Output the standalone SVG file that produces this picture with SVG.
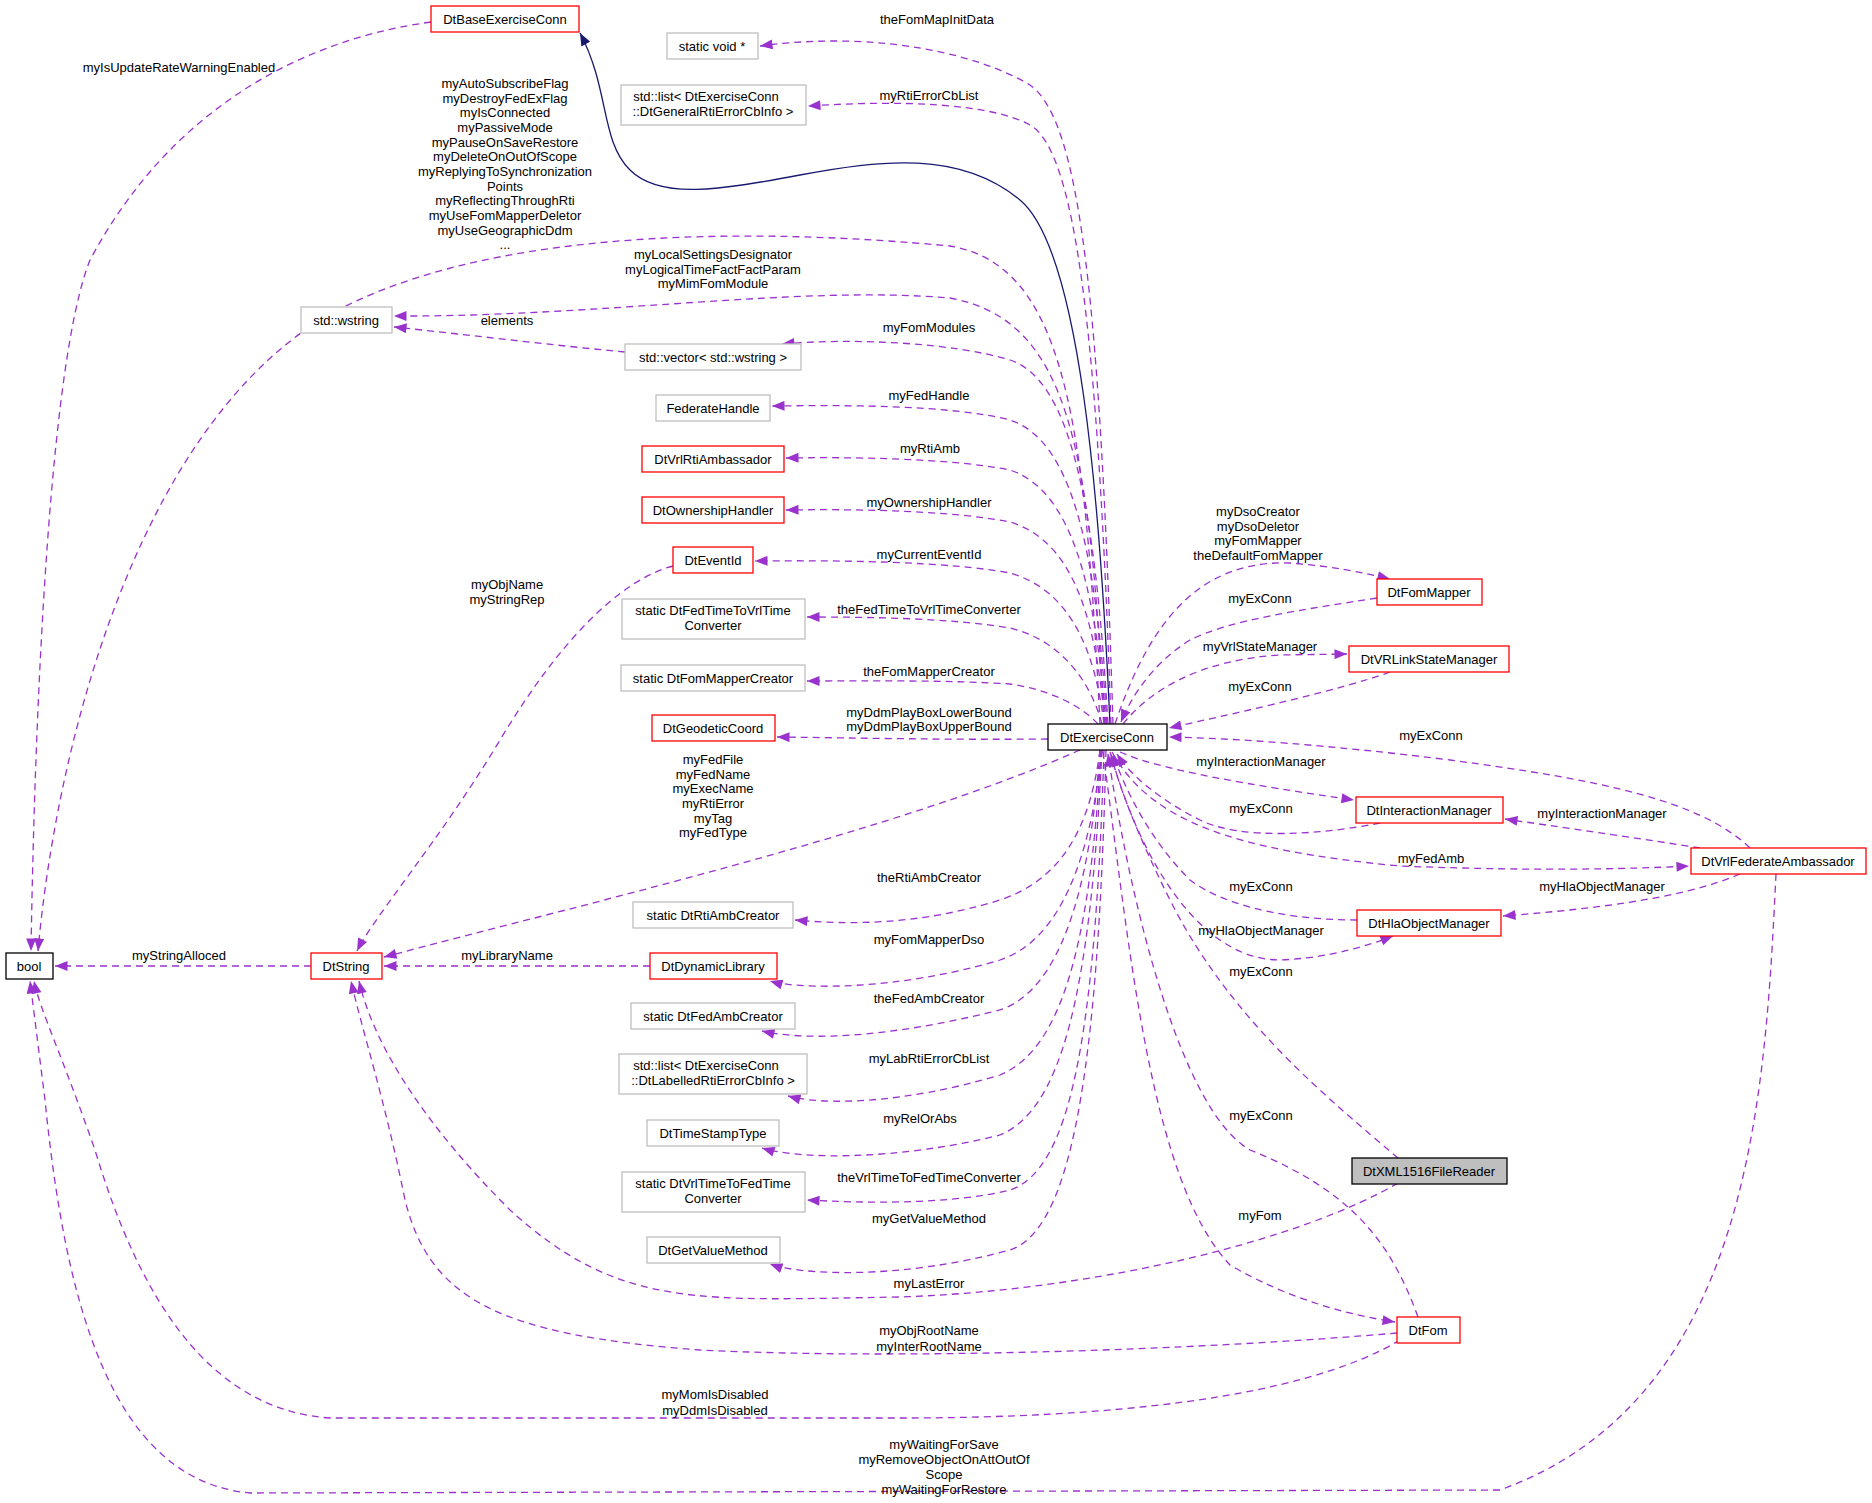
<svg xmlns="http://www.w3.org/2000/svg" width="1872" height="1503" viewBox="0 0 1872 1503">
<style>
text{font-family:"Liberation Sans",Arial,sans-serif;font-size:13px;fill:#000;text-anchor:middle}
.n rect{fill:#fff;stroke-width:1.3}
.r rect{stroke:#ff0000}
.g rect{stroke:#bfbfbf}
.k rect{stroke:#000}
.e path{fill:none;stroke:#9a32cd;stroke-width:1.3;stroke-dasharray:7,5;marker-end:url(#a)}
.e path.inh{stroke:#191970;stroke-dasharray:none;marker-end:url(#b)}
</style>
<defs>
<marker id="a" viewBox="0 0 10 8" refX="10" refY="4" markerWidth="13" markerHeight="10" markerUnits="userSpaceOnUse" orient="auto"><path d="M0,0L10,4L0,8z" fill="#9a32cd"/></marker>
<marker id="b" viewBox="0 0 10 8" refX="10" refY="4" markerWidth="13" markerHeight="10" markerUnits="userSpaceOnUse" orient="auto"><path d="M0,0L10,4L0,8z" fill="#191970"/></marker>
</defs>
<rect width="1872" height="1503" fill="#fff"/>
<g id="edges" class="e">
<path class="inh" d="M1110,724 C1100,500 1080,250 1020,200 C960,150 880,160 800,175 C720,190 660,200 630,170 C600,140 610,90 580,33"/>
<path d="M431,22 C300,40 170,110 90,260 C50,360 35,700 31,951"/>
<path d="M1100,724 C1085,420 1065,265 950,246 C760,228 480,225 320,320 C130,440 55,760 38,951"/>
<path d="M1113,724 C1100,300 1080,120 1030,85 C980,55 880,30 760,46"/>
<path d="M1111,724 C1098,330 1075,150 1030,125 C990,103 900,100 808,106"/>
<path d="M1104,724 C1090,450 1070,320 950,298 C800,285 600,317 394,316"/>
<path d="M1108,724 C1095,500 1070,380 1010,360 C950,342 850,338 782,344"/>
<path d="M625,352 C550,345 470,335 394,327"/>
<path d="M1107,724 C1095,540 1070,440 1010,420 C950,405 850,405 772,406"/>
<path d="M1106,724 C1095,580 1070,490 1010,470 C950,458 850,457 786,458"/>
<path d="M1105,724 C1095,610 1070,540 1010,522 C950,510 850,509 786,510"/>
<path d="M1104,724 C1095,650 1070,590 1010,573 C950,562 850,560 755,561"/>
<path d="M1102,724 C1090,680 1060,640 1010,628 C950,618 870,617 807,617"/>
<path d="M1098,724 C1080,705 1050,690 1010,684 C950,680 870,681 807,681"/>
<path d="M1048,739 C950,740 860,738 777,737"/>
<path d="M673,566 C620,580 560,640 500,740 C440,840 375,915 357,951"/>
<path d="M1080,750 C900,830 600,900 384,957"/>
<path d="M311,966 L55,966"/>
<path d="M650,966 L384,966"/>
<path d="M1100,750 C1090,830 1060,880 1000,900 C920,925 850,925 795,920"/>
<path d="M1102,750 C1090,860 1060,940 1000,960 C900,990 800,990 770,981"/>
<path d="M1100,750 C1090,890 1060,990 1000,1010 C880,1040 800,1040 762,1031"/>
<path d="M1101,750 C1090,950 1060,1050 1000,1075 C900,1105 820,1105 788,1096"/>
<path d="M1102,750 C1090,1000 1060,1110 1000,1135 C900,1160 800,1160 762,1148"/>
<path d="M1104,750 C1095,1040 1070,1170 1010,1190 C950,1205 860,1203 807,1200"/>
<path d="M1106,750 C1098,1080 1070,1230 1010,1250 C900,1280 800,1275 770,1264"/>
<path d="M1398,1183 C1300,1240 1100,1290 900,1297 C700,1300 620,1310 510,1210 C430,1130 375,1050 359,981"/>
<path d="M1397,1333 C1200,1350 900,1360 700,1350 C500,1335 430,1300 405,1200 C385,1100 362,1030 351,981"/>
<path d="M1400,1340 C1300,1400 1100,1418 900,1418 L330,1418 C210,1410 140,1300 95,1150 C60,1050 40,1010 34,981"/>
<path d="M1776,874 C1765,1100 1750,1400 1500,1490 L250,1493 C110,1480 65,1300 45,1100 L30,981"/>
<path d="M1115,724 C1150,620 1200,560 1290,563 C1330,566 1360,572 1390,579"/>
<path d="M1377,598 C1300,610 1230,620 1190,640 C1150,665 1130,700 1121,722"/>
<path d="M1123,724 C1150,690 1200,660 1280,655 L1347,654"/>
<path d="M1390,672 C1340,690 1250,710 1169,728"/>
<path d="M1750,848 C1700,800 1600,780 1450,760 C1330,745 1230,738 1169,737"/>
<path d="M1120,752 C1160,770 1250,785 1354,800"/>
<path d="M1380,823 C1320,835 1240,840 1200,820 C1160,800 1130,775 1117,754"/>
<path d="M1112,752 C1150,820 1230,850 1400,866 C1550,872 1650,868 1689,866"/>
<path d="M1700,848 C1650,840 1580,830 1505,819"/>
<path d="M1740,874 C1680,900 1580,910 1503,916"/>
<path d="M1357,920 C1300,920 1230,910 1190,880 C1150,840 1125,790 1113,754"/>
<path d="M1110,752 C1140,860 1200,960 1280,960 C1330,958 1370,945 1393,936"/>
<path d="M1398,1158 C1330,1100 1230,1020 1170,900 C1140,840 1120,790 1111,754"/>
<path d="M1418,1317 C1390,1240 1350,1190 1250,1150 C1180,1110 1130,900 1108,754"/>
<path d="M1103,752 C1130,950 1150,1180 1230,1265 C1290,1300 1350,1315 1395,1322"/>
</g>
<g id="labels">
<text x="179" y="72">myIsUpdateRateWarningEnabled</text>
<text x="505" y="88">myAutoSubscribeFlag</text>
<text x="505" y="103">myDestroyFedExFlag</text>
<text x="505" y="117">myIsConnected</text>
<text x="505" y="132">myPassiveMode</text>
<text x="505" y="147">myPauseOnSaveRestore</text>
<text x="505" y="161">myDeleteOnOutOfScope</text>
<text x="505" y="176">myReplyingToSynchronization</text>
<text x="505" y="191">Points</text>
<text x="505" y="205">myReflectingThroughRti</text>
<text x="505" y="220">myUseFomMapperDeletor</text>
<text x="505" y="235">myUseGeographicDdm</text>
<text x="505" y="249">...</text>
<text x="713" y="259">myLocalSettingsDesignator</text>
<text x="713" y="274">myLogicalTimeFactFactParam</text>
<text x="713" y="288">myMimFomModule</text>
<text x="507" y="325">elements</text>
<text x="507" y="589">myObjName</text>
<text x="507" y="604">myStringRep</text>
<text x="937" y="24">theFomMapInitData</text>
<text x="929" y="100">myRtiErrorCbList</text>
<text x="929" y="332">myFomModules</text>
<text x="929" y="400">myFedHandle</text>
<text x="930" y="453">myRtiAmb</text>
<text x="929" y="507">myOwnershipHandler</text>
<text x="929" y="559">myCurrentEventId</text>
<text x="929" y="614">theFedTimeToVrlTimeConverter</text>
<text x="929" y="676">theFomMapperCreator</text>
<text x="929" y="717">myDdmPlayBoxLowerBound</text>
<text x="929" y="731">myDdmPlayBoxUpperBound</text>
<text x="713" y="764">myFedFile</text>
<text x="713" y="779">myFedName</text>
<text x="713" y="793">myExecName</text>
<text x="713" y="808">myRtiError</text>
<text x="713" y="823">myTag</text>
<text x="713" y="837">myFedType</text>
<text x="929" y="882">theRtiAmbCreator</text>
<text x="929" y="944">myFomMapperDso</text>
<text x="929" y="1003">theFedAmbCreator</text>
<text x="929" y="1063">myLabRtiErrorCbList</text>
<text x="920" y="1123">myRelOrAbs</text>
<text x="929" y="1182">theVrlTimeToFedTimeConverter</text>
<text x="929" y="1223">myGetValueMethod</text>
<text x="929" y="1288">myLastError</text>
<text x="929" y="1335">myObjRootName</text>
<text x="929" y="1351">myInterRootName</text>
<text x="179" y="960">myStringAlloced</text>
<text x="507" y="960">myLibraryName</text>
<text x="715" y="1399">myMomIsDisabled</text>
<text x="715" y="1415">myDdmIsDisabled</text>
<text x="944" y="1449">myWaitingForSave</text>
<text x="944" y="1464">myRemoveObjectOnAttOutOf</text>
<text x="944" y="1479">Scope</text>
<text x="944" y="1494">myWaitingForRestore</text>
<text x="1258" y="516">myDsoCreator</text>
<text x="1258" y="531">myDsoDeletor</text>
<text x="1258" y="545">myFomMapper</text>
<text x="1258" y="560">theDefaultFomMapper</text>
<text x="1260" y="603">myExConn</text>
<text x="1260" y="651">myVrlStateManager</text>
<text x="1260" y="691">myExConn</text>
<text x="1431" y="740">myExConn</text>
<text x="1261" y="766">myInteractionManager</text>
<text x="1261" y="813">myExConn</text>
<text x="1602" y="818">myInteractionManager</text>
<text x="1431" y="863">myFedAmb</text>
<text x="1261" y="891">myExConn</text>
<text x="1602" y="891">myHlaObjectManager</text>
<text x="1261" y="935">myHlaObjectManager</text>
<text x="1261" y="976">myExConn</text>
<text x="1261" y="1120">myExConn</text>
<text x="1260" y="1220">myFom</text>
</g>
<g id="DtBaseExerciseConn" class="n r"><rect x="431" y="6" width="148" height="26"/><text x="505" y="23.5">DtBaseExerciseConn</text></g>
<g id="staticvoid" class="n g"><rect x="667" y="33" width="91" height="26"/><text x="712" y="50.5">static void *</text></g>
<g id="listGeneral" class="n g"><rect x="621" y="85" width="185" height="40"/><text x="706" y="101">std::list&lt; DtExerciseConn</text><text x="713" y="116">::DtGeneralRtiErrorCbInfo &gt;</text></g>
<g id="wstring" class="n g"><rect x="301" y="307" width="91" height="26"/><text x="346" y="324.5">std::wstring</text></g>
<g id="vector" class="n g"><rect x="625" y="344" width="176" height="26"/><text x="713" y="361.5">std::vector&lt; std::wstring &gt;</text></g>
<g id="FederateHandle" class="n g"><rect x="656" y="395" width="114" height="26"/><text x="713" y="412.5">FederateHandle</text></g>
<g id="DtVrlRtiAmbassador" class="n r"><rect x="642" y="446" width="142" height="26"/><text x="713" y="463.5">DtVrlRtiAmbassador</text></g>
<g id="DtOwnershipHandler" class="n r"><rect x="642" y="497" width="142" height="26"/><text x="713" y="514.5">DtOwnershipHandler</text></g>
<g id="DtEventId" class="n r"><rect x="673" y="547" width="80" height="26"/><text x="713" y="564.5">DtEventId</text></g>
<g id="FedTimeToVrl" class="n g"><rect x="622" y="599" width="183" height="40"/><text x="713" y="615">static DtFedTimeToVrlTime</text><text x="713" y="630">Converter</text></g>
<g id="FomMapperCreator" class="n g"><rect x="621" y="665" width="184" height="26"/><text x="713" y="682.5">static DtFomMapperCreator</text></g>
<g id="DtGeodeticCoord" class="n r"><rect x="652" y="715" width="123" height="26"/><text x="713" y="732.5">DtGeodeticCoord</text></g>
<g id="DtExerciseConn" class="n k"><rect x="1048" y="724" width="119" height="26"/><text x="1107" y="741.5">DtExerciseConn</text></g>
<g id="bool" class="n k"><rect x="6" y="953" width="47" height="26"/><text x="29" y="970.5">bool</text></g>
<g id="DtString" class="n r"><rect x="311" y="953" width="71" height="26"/><text x="346" y="970.5">DtString</text></g>
<g id="DtDynamicLibrary" class="n r"><rect x="650" y="953" width="127" height="26"/><text x="713" y="970.5">DtDynamicLibrary</text></g>
<g id="RtiAmbCreator" class="n g"><rect x="633" y="902" width="160" height="26"/><text x="713" y="919.5">static DtRtiAmbCreator</text></g>
<g id="FedAmbCreator" class="n g"><rect x="631" y="1003" width="164" height="26"/><text x="713" y="1020.5">static DtFedAmbCreator</text></g>
<g id="listLabelled" class="n g"><rect x="619" y="1054" width="188" height="40"/><text x="706" y="1070">std::list&lt; DtExerciseConn</text><text x="713" y="1085">::DtLabelledRtiErrorCbInfo &gt;</text></g>
<g id="DtTimeStampType" class="n g"><rect x="647" y="1120" width="132" height="26"/><text x="713" y="1137.5">DtTimeStampType</text></g>
<g id="VrlTimeToFed" class="n g"><rect x="622" y="1172" width="183" height="40"/><text x="713" y="1188">static DtVrlTimeToFedTime</text><text x="713" y="1203">Converter</text></g>
<g id="DtGetValueMethod" class="n g"><rect x="647" y="1237" width="133" height="26"/><text x="713" y="1254.5">DtGetValueMethod</text></g>
<g id="DtFomMapper" class="n r"><rect x="1377" y="579" width="105" height="26"/><text x="1429" y="596.5">DtFomMapper</text></g>
<g id="DtVRLinkStateManager" class="n r"><rect x="1349" y="646" width="160" height="26"/><text x="1429" y="663.5">DtVRLinkStateManager</text></g>
<g id="DtInteractionManager" class="n r"><rect x="1356" y="797" width="147" height="26"/><text x="1429" y="814.5">DtInteractionManager</text></g>
<g id="DtVrlFederateAmbassador" class="n r"><rect x="1691" y="848" width="175" height="26"/><text x="1778" y="865.5">DtVrlFederateAmbassador</text></g>
<g id="DtHlaObjectManager" class="n r"><rect x="1357" y="910" width="144" height="26"/><text x="1429" y="927.5">DtHlaObjectManager</text></g>
<g id="DtXML1516FileReader" class="n k"><rect x="1352" y="1158" width="155" height="26" style="fill:#bfbfbf"/><text x="1429" y="1175.5">DtXML1516FileReader</text></g>
<g id="DtFom" class="n r"><rect x="1397" y="1317" width="63" height="26"/><text x="1428" y="1334.5">DtFom</text></g>
</svg>
